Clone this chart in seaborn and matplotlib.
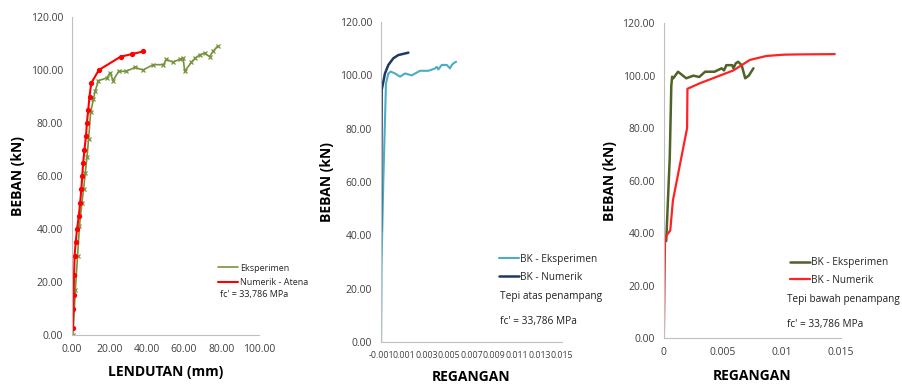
import numpy as np
import pandas as pd
import matplotlib
matplotlib.use("Agg")
import matplotlib.pyplot as plt
import seaborn as sns

# Panel 1: load vs deflection
lend_num = [0.5, 0.5, 0.7, 0.9, 1.1, 1.1, 1.4, 2.0, 2.7, 3.7, 4.4, 5.0, 5.5, 6.0, 6.7,
            7.5, 8.0, 8.7, 9.4, 10.3, 14.4, 26.0, 32.0, 38.2]
beban_num = [0, 5, 10, 15, 20, 25, 30, 35, 40, 45, 50, 55, 60, 65, 70,
             75, 80, 85, 90, 95, 100, 105, 106, 107]
lend_eks = [0.5, 1.8, 3.0, 4.0, 5.3, 6.2, 7.1, 8.0, 8.9, 10.0, 11.5, 12.4, 14.2, 18.7,
            20.4, 22.0, 25.0, 29.0, 33.7, 38.0, 43.5, 49.0, 50.6, 54.0, 57.7, 59.5,
            60.4, 64.0, 66.0, 68.4, 71.0, 73.7, 75.5, 78.0]
beban_eks = [0, 17, 30, 41, 50, 55, 61, 67, 74, 84, 89, 92, 96, 97,
             99, 96, 99.5, 99.5, 101, 100, 102, 102, 104, 103, 104, 104.5,
             99.5, 103, 104.5, 105.7, 106.4, 105, 107, 109]

# Panel 2: top fibre strain
reg_atas_num = [-0.001, -0.001, -0.00094, -0.00065, -0.00035, 0.00009, 0.00053, 0.00142]
beban_atas_num = [0, 83, 94.5, 100.7, 103.9, 106.4, 107.6, 108.5]
reg_atas_eks = [-0.001, -0.00095, -0.0008, -0.00065, -0.00056, -0.00035, -0.00014, 0.00024,
                0.00068, 0.00112, 0.00172, 0.00245, 0.00319, 0.00378, 0.00393, 0.00407,
                0.00437, 0.00481, 0.0051, 0.00526, 0.0054, 0.00564]
beban_atas_eks = [0, 30, 60, 83, 97, 100.7, 101.4, 100.7,
                  99.5, 100.7, 100, 101.7, 101.7, 102.6, 103.2, 102.2,
                  103.9, 103.9, 102.6, 103.9, 104.5, 105.1]

# Panel 3: bottom fibre strain
reg_bawah_num = [0, 0.0001, 0.0002, 0.00054, 0.00077, 0.00197, 0.002, 0.003, 0.0045,
                 0.0059, 0.0073, 0.0087, 0.0102, 0.0116, 0.0145]
beban_bawah_num = [0, 37, 39, 41, 52.5, 80, 95, 97, 99.6,
                   102, 106, 107.5, 108, 108.1, 108.2]
reg_bawah_eks = [0.0002, 0.0005, 0.00063, 0.0007, 0.0008, 0.0012, 0.0019, 0.0025, 0.003,
                 0.0035, 0.0043, 0.0049, 0.0051, 0.0053, 0.0058, 0.0059, 0.0061, 0.0063,
                 0.0066, 0.0069, 0.0072, 0.0076]
beban_bawah_eks = [37, 69, 96, 99.6, 99, 101.5, 99, 100, 99.5,
                   101.5, 101.5, 102.8, 102, 104, 104, 102.8, 104.7, 105.3,
                   104, 99, 100, 102.8]

sns.set_style("white")
plt.rcParams['font.family'] = ['Open Sans', 'DejaVu Sans']

fig = plt.figure(figsize=(9.02, 3.86), dpi=100)
ax1 = fig.add_axes([0.0798, 0.132, 0.207, 0.824])
ax2 = fig.add_axes([0.4224, 0.114, 0.2007, 0.829])
ax3 = fig.add_axes([0.736, 0.124, 0.196, 0.816])

tick_col = '#404040'
axis_col = '#BFBFBF'


def style_axis(ax, xlabel, pad):
    for s in ['top', 'right']:
        ax.spines[s].set_visible(False)
    for s in ['left', 'bottom']:
        ax.spines[s].set_color(axis_col)
        ax.spines[s].set_linewidth(0.8)
    ax.set_ylim(0, 120)
    ax.set_yticks(np.arange(0, 121, 20))
    ax.set_yticklabels([f"{v:.2f}" for v in np.arange(0, 121, 20)])
    ax.tick_params(axis='both', labelsize=7.5, colors=axis_col, labelcolor=tick_col,
                   length=3, width=0.8, direction='out')
    ax.set_ylabel("BEBAN (kN)", fontsize=10, fontweight='bold', color='black', labelpad=4)
    ax.set_xlabel(xlabel, fontsize=10, fontweight='bold', color='black', labelpad=pad)


# Panel 1
sns.lineplot(x=lend_eks, y=beban_eks, ax=ax1, sort=False, color='#77933C', lw=1.2,
             marker='x', markersize=3.5, markeredgewidth=0.9, markeredgecolor='#77933C',
             label='Eksperimen')
sns.lineplot(x=lend_num, y=beban_num, ax=ax1, sort=False, color='#FF0000', lw=1.5,
             marker='o', markersize=3.8, markeredgewidth=0, label='Numerik - Atena')
style_axis(ax1, "LENDUTAN (mm)", 7)
ax1.set_xlim(0, 100)
ax1.set_xticks(np.arange(0, 101, 20))
ax1.set_xticklabels([f"{v:.2f}" for v in np.arange(0, 101, 20)])
leg1 = ax1.legend(loc='upper left', bbox_to_anchor=(0.74, 0.25), frameon=False,
                  fontsize=6.5, handlelength=2.2, handletextpad=0.2, labelspacing=0.6)
for h in leg1.legend_handles:
    h.set_marker('')
ax1.text(0.795, 0.12, "fc' = 33,786 MPa", transform=ax1.transAxes, fontsize=6.5,
         color='#202020', clip_on=False)

# Panel 2
sns.lineplot(x=reg_atas_eks, y=beban_atas_eks, ax=ax2, sort=False, color='#4BACC6', lw=1.5,
             label='BK - Eksperimen')
sns.lineplot(x=reg_atas_num, y=beban_atas_num, ax=ax2, sort=False, color='#1F3864', lw=1.8,
             label='BK - Numerik')
style_axis(ax2, "REGANGAN", 7)
ax2.set_xlim(-0.001, 0.015)
xt2 = np.arange(-0.001, 0.0151, 0.002)
ax2.set_xticks(xt2)
ax2.set_xticklabels([f"{v:.3f}" for v in xt2], fontsize=6.3)
ax2.set_xticks(np.arange(-0.001, 0.0151, 0.001), minor=True)
ax2.tick_params(axis='x', which='minor', length=3, width=0.8, colors=axis_col)
leg2 = ax2.legend(loc='upper left', bbox_to_anchor=(0.6, 0.305), frameon=False,
                  fontsize=7.3, handlelength=2.0, handletextpad=0.1, labelspacing=0.7)
ax2.text(0.655, 0.135, "Tepi atas penampang", transform=ax2.transAxes, fontsize=7.3,
         color='#202020', clip_on=False)
ax2.text(0.655, 0.055, "fc' = 33,786 MPa", transform=ax2.transAxes, fontsize=7.3,
         color='#202020', clip_on=False)

# Panel 3
sns.lineplot(x=reg_bawah_eks, y=beban_bawah_eks, ax=ax3, sort=False, color='#4F6228', lw=1.8,
             label='BK - Eksperimen')
sns.lineplot(x=reg_bawah_num, y=beban_bawah_num, ax=ax3, sort=False, color='#FF2222', lw=1.6,
             label='BK - Numerik')
style_axis(ax3, "REGANGAN", 8)
ax3.set_xlim(0, 0.015)
ax3.set_xticks([0, 0.005, 0.01, 0.015])
ax3.set_xticklabels(['0', '0.005', '0.01', '0.015'])
leg3 = ax3.legend(loc='upper left', bbox_to_anchor=(0.66, 0.285), frameon=False,
                  fontsize=7.3, handlelength=2.0, handletextpad=0.1, labelspacing=0.6)
ax3.text(0.695, 0.115, "Tepi bawah penampang", transform=ax3.transAxes, fontsize=7.2,
         color='#202020', clip_on=False)
ax3.text(0.695, 0.035, "fc' = 33,786 MPa", transform=ax3.transAxes, fontsize=7.2,
         color='#202020', clip_on=False)

fig.savefig("out.png", dpi=100)
